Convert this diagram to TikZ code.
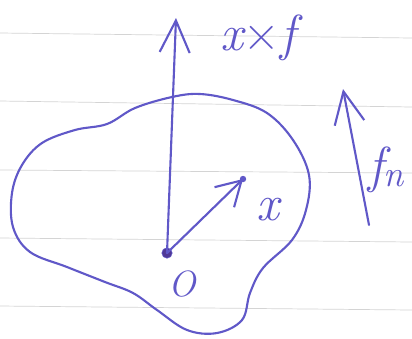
\documentclass[tikz,border=0pt]{standalone}
\usepackage{fontspec}
\usepackage{tikz}
\usetikzlibrary{arrows.meta,positioning}
\definecolor{ink}{RGB}{96,88,200}
\definecolor{inkdark}{RGB}{80,56,150}
\definecolor{paperrule}{RGB}{212,212,212}
\tikzset{
  ruleline/.style={draw=paperrule,line width=0.5pt},
  inkline/.style={draw=ink,line width=1.5pt,line cap=round,line join=round},
  bigvec/.style={inkline,-{Straight Barb[length=8mm,width=7.5mm]}},
  smallvec/.style={inkline,-{Straight Barb[length=6mm,width=7mm]}},
  handlabel/.style={text=ink,font=\fontsize{36}{42}\selectfont\itshape,inner sep=0pt},
  dotnode/.style={circle,fill=inkdark,draw=ink,inner sep=0pt,minimum size=2.6mm}
}

\begin{document}
\begin{tikzpicture}[x=0.025cm,y=-0.025cm]
  \useasboundingbox (0,0) rectangle (412,338);
  \fill[white] (0,0) rectangle (412,338);

  % ruled paper
  \foreach \ya/\yb in {33/38,101/107,170/173,238/242,306/310}
    \draw[ruleline] (0,\ya) -- (412,\yb);

  % the body
  \draw[inkline] plot[smooth cycle,tension=0.6] coordinates {
    (200,94) (233,100) (267,113) (293,140) (309,175) (306,210) (292,240)
    (263,268) (250,293) (242,320) (217,333) (187,330) (157,310) (133,293)
    (105,282) (67,267) (30,252) (13,227) (12,193) (22,165) (42,143)
    (75,130) (107,124) (135,108) (172,97)};

  \node[dotnode] (O) at (167,253) {};
  \coordinate (xftip) at (176,18);
  \coordinate (xtip) at (243,179);
  \coordinate (fntail) at (369,225);
  \coordinate (fntip) at (343,89);

  \draw[bigvec] (O.center) -- (xftip);
  \draw[smallvec] (O.center) -- (xtip);
  \fill[ink] (xtip) circle (0.8mm);
  \draw[bigvec] (fntail) -- (fntip);

  \node[handlabel] (xflabel) at (258,38) {x{\upshape×}f};
  \node[handlabel,font=\fontsize{26}{30}\selectfont\itshape] (olabel) at (182,284) {O};
  \node[handlabel] (xlabel) at (268,210) {x};
  \node[handlabel,anchor=west] (fnlabel) at (368,170) {f\raisebox{-1mm}{\fontsize{26}{30}\selectfont n}};
\end{tikzpicture}
\end{document}
